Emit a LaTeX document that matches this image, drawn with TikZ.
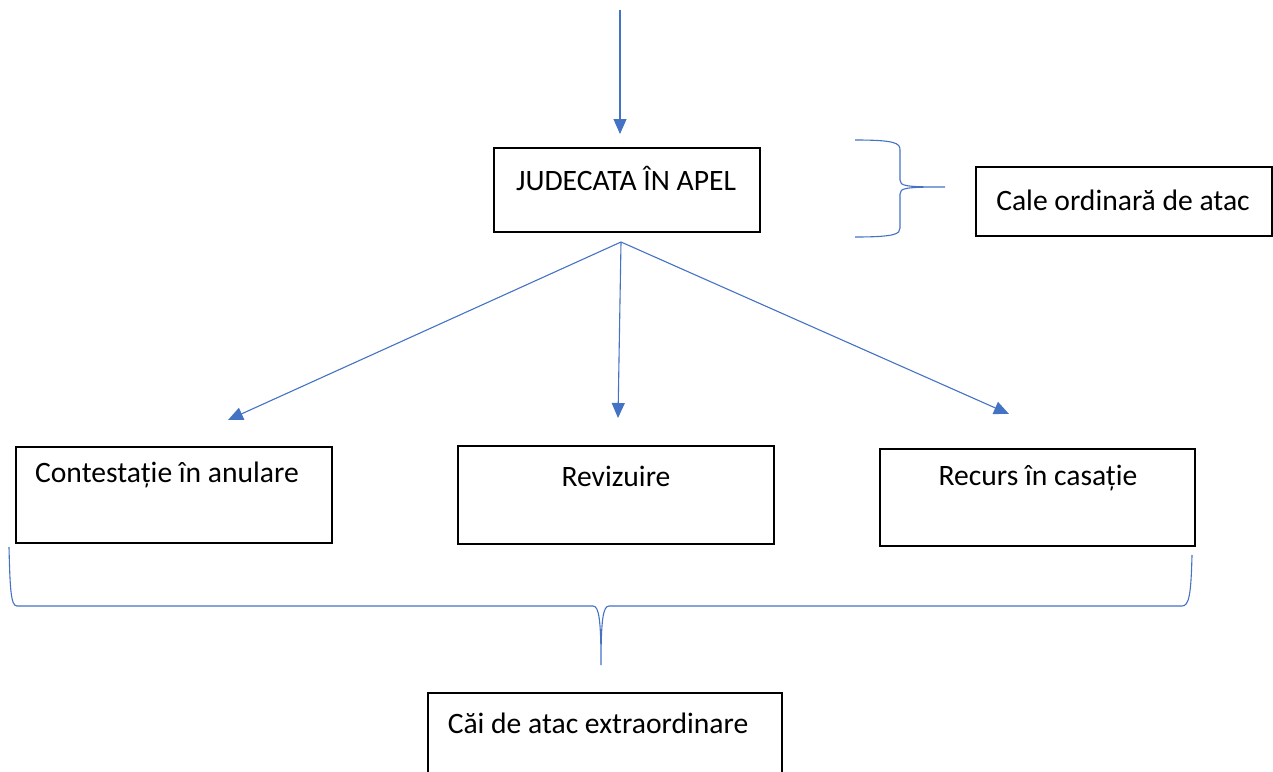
\documentclass[tikz,border=0pt]{standalone}
\usepackage{fontspec}
\setmainfont{Carlito}
\usetikzlibrary{arrows.meta}
\definecolor{linkblue}{HTML}{4472C4}
\begin{document}
\begin{tikzpicture}[x=1pt,y=-1pt,
			box/.style = {draw, line width=1.6pt, inner sep=0pt},
			txt/.style = {font=\fontsize{29.6}{35}\selectfont, inner sep=0pt},
			link/.style = {draw=linkblue, line width=1.1pt,
				-{Triangle[length=15pt,width=13pt]}},
			brace/.style = {draw=linkblue, line width=1.1pt}]
			\useasboundingbox (0,0) rectangle (1273,771);
			% boxes
			\node (judecata) [box, minimum width=266pt, minimum height=84pt] at (627,190) {};
			\node (ordinara) [box, minimum width=296pt, minimum height=69pt] at (1124,201.5) {};
			\node (contestatie) [box, minimum width=316pt, minimum height=96pt] at (174,495) {};
			\node (revizuire) [box, minimum width=316pt, minimum height=98pt] at (616,495) {};
			\node (recurs) [box, minimum width=315pt, minimum height=97pt] at (1037.5,497.5) {};
			\node (extra) [box, minimum width=354pt, minimum height=100pt] at (605,743) {};
			% texts
			\node (judecataT) [txt] at (626,178) {JUDECATA ÎN APEL};
			\node (ordinaraT) [txt] at (1123,200) {Cale ordinară de atac};
			\node (contestatieT) [txt] at (167,475) {Contestație în anulare};
			\node (revizuireT) [txt] at (616,476) {Revizuire};
			\node (recursT) [txt] at (1038,478) {Recurs în casație};
			\node (extraT) [txt] at (598,723) {Căi de atac extraordinare};
			% arrows
			\coordinate (in) at (620,10);
			\coordinate (fork) at (621,242);
			\coordinate (inTip) at (620,134);
			\coordinate (leftTip) at (228,420);
			\coordinate (midTip) at (618,418);
			\coordinate (rightTip) at (1009,414);
			\path [link] (in) -- (inTip);
			\path [link] (fork) -- (leftTip);
			\path [link] (fork) -- (midTip);
			\path [link] (fork) -- (rightTip);
			% braces
			\path [brace] (855,140) .. controls (895,140) and (900,143) .. (900,150)
			-- (900,180) .. controls (900,186) and (905,187) .. (945,187)
			.. controls (905,187) and (900,188) .. (900,194)
			-- (900,228) .. controls (900,234) and (895,237) .. (855,237);
			\path [brace] (9,547) .. controls (10,590) and (11,606) .. (17,606)
			-- (593,606) .. controls (599,606) and (601,620) .. (601,665)
			.. controls (601,620) and (603,606) .. (609,606)
			-- (1182,606) .. controls (1189,606) and (1191,595) .. (1192,555);
		\end{tikzpicture}
\end{document}
